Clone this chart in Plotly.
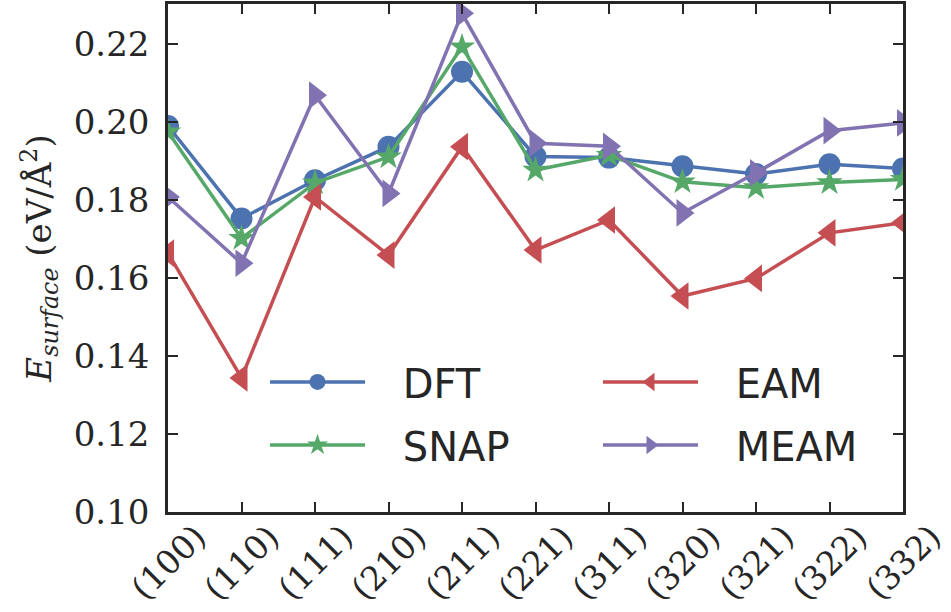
import plotly.graph_objects as go

surfaces = ["(100)", "(110)", "(111)", "(210)", "(211)", "(221)",
            "(311)", "(320)", "(321)", "(322)", "(332)"]
dft = [0.1990, 0.1753, 0.1851, 0.1937, 0.2129, 0.1912, 0.1909, 0.1887, 0.1867, 0.1892, 0.1881]
snap = [0.1975, 0.1702, 0.1844, 0.1911, 0.2193, 0.1877, 0.1915, 0.1847, 0.1832, 0.1845, 0.1853]
eam = [0.1664, 0.1344, 0.1808, 0.1659, 0.1937, 0.1672, 0.1749, 0.1554, 0.1599, 0.1716, 0.1742]
meam = [0.1808, 0.1638, 0.2069, 0.1817, 0.2279, 0.1946, 0.1938, 0.1767, 0.1870, 0.1978, 0.1998]
yticks = [0.10, 0.12, 0.14, 0.16, 0.18, 0.20, 0.22]
ytick_labels = ["0.10", "0.12", "0.14", "0.16", "0.18", "0.20", "0.22"]

xpos = list(range(len(surfaces)))

series = [
    ("DFT", dft, "#4C72B0", "circle", 22, "legend"),
    ("SNAP", snap, "#55A868", "star", 20, "legend"),
    ("EAM", eam, "#C44E52", "triangle-left", 24, "legend2"),
    ("MEAM", meam, "#8172B2", "triangle-right", 24, "legend2"),
]

PAD = "\u2002\u00a0"
fig = go.Figure()
for name, vals, color, sym, size, leg in series:
    fig.add_trace(go.Scatter(
        x=xpos, y=vals, name=PAD + name, mode="lines+markers",
        line=dict(color=color, width=3.5),
        marker=dict(symbol=sym, size=size, color=color, line=dict(width=0)),
        legend=leg, legendgroup=name,
    ))

axis_common = dict(
    showline=True, linecolor="#262626", linewidth=2.5, mirror="ticks",
    ticks="inside", ticklen=10, tickwidth=2, tickcolor="#262626",
    showgrid=False, zeroline=False, automargin=False,
)

SERIF = "DejaVu Serif"
annotations = []
for xi, lab in zip(xpos, surfaces):
    annotations.append(dict(
        x=xi, xref="x", y=-0.099, yref="paper", text=lab, textangle=-45,
        showarrow=False, xanchor="center", yanchor="middle",
        font=dict(family=SERIF, size=33, color="#262626"),
    ))

legend_common = dict(
    orientation="v", yanchor="top", bgcolor="rgba(0,0,0,0)",
    itemwidth=95, tracegroupgap=8,
    font=dict(family="DejaVu Sans", size=40, color="#262626"),
)

fig.update_layout(
    width=951, height=612,
    margin=dict(l=168, r=48, t=4, b=100),
    plot_bgcolor="white", paper_bgcolor="white",
    xaxis=dict(range=[0, 10], tickmode="array", tickvals=xpos,
               showticklabels=False, **axis_common),
    yaxis=dict(range=[0.10, 0.2303], tickmode="array",
               tickvals=yticks, ticktext=ytick_labels,
               tickfont=dict(family=SERIF, size=34, color="#262626"),
               ticklabelstandoff=9,
               title=dict(text="<i>E</i><sub><i>surface</i></sub> (eV/Å<sup>2</sup>)",
                          font=dict(family=SERIF, size=34, color="#262626"),
                          standoff=12),
               **axis_common),
    showlegend=True,
    legend=dict(x=0.132, y=0.32, **legend_common),
    legend2=dict(x=0.585, y=0.32, **legend_common),
    annotations=annotations,
)

fig.write_html("out.html", config={"displayModeBar": False},
               post_script="document.body.style.margin='0';")
